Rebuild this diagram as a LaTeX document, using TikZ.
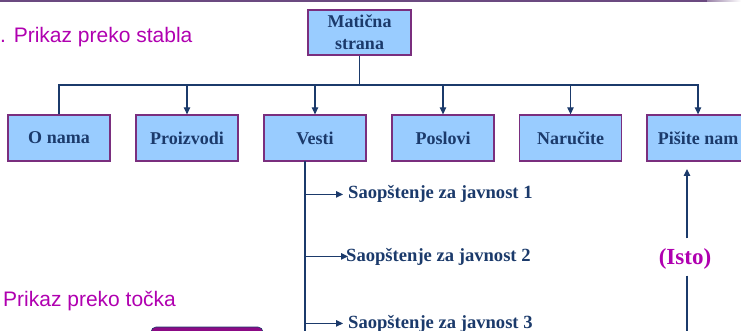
\documentclass[tikz,border=0pt]{standalone}
\usepackage{fontspec}
\setmainfont{Liberation Serif}
\newfontfamily\titlefont{Liberation Sans}
\usetikzlibrary{arrows.meta}
\definecolor{boxfill}{HTML}{99CCFF}
\definecolor{boxedge}{HTML}{7A2E7E}
\definecolor{navy}{HTML}{1B3A6B}
\definecolor{plum}{HTML}{B000B0}
\definecolor{barpurple}{HTML}{6B4A80}
\definecolor{menufill}{HTML}{8B0A85}
\begin{document}
\begin{tikzpicture}[x=1pt,y=-1pt,
  page/.style={draw=boxedge, line width=1.3pt, fill=boxfill,
    minimum width=102pt, minimum height=46pt, inner sep=0pt,
    font=\fontsize{18}{22}\selectfont\bfseries, text=navy},
  link/.style={draw=navy, line width=1.2pt},
  tip/.style={-{Triangle[length=7pt,width=6.5pt]}},
  item/.style={font=\fontsize{18.6}{20}\selectfont\bfseries, text=navy,
    anchor=base west, inner sep=0pt},
  heading/.style={font=\titlefont\fontsize{21}{24}\selectfont, text=plum,
    anchor=base west, inner sep=0pt}]
\useasboundingbox (0,0) rectangle (741,331);
\clip (0,0) rectangle (741,331);

% slide header bar
\fill[barpurple] (0,0) rectangle (707,2.2);
\shade[left color=barpurple!70, right color=white] (707,0) rectangle (741,1.8);

% section headings
\node[heading] (h1) at (0,43) {. Prikaz preko stabla};
\node[heading] (h2) at (3,306.5) {Prikaz preko točka};

% site tree
\node[page, align=center, minimum width=103pt, minimum height=45pt] (home) at (359.5,32.5) {Matična\\strana};
\node[page] (onama)     at (59,138)    {O nama};
\node[page] (proizvodi) at (187,138)   {Proizvodi};
\node[page] (vesti)     at (315,138)   {Vesti};
\node[page] (poslovi)   at (443,138)   {Poslovi};
\node[page] (narucite)  at (570.5,138) {Naručite};
\node[page] (pisite)    at (698,138)   {Pišite nam};

\coordinate (hub) at (359.5,85);
\draw[link] (home.south) -- (hub);
\draw[link] (onama.north) |- (hub);
\foreach \n in {proizvodi,vesti,poslovi,narucite,pisite}
  \draw[link,tip] (hub) -| (\n.north);

% news items below "Vesti"
\node[item] (s1) at (348,199) {Saopštenje za javnost 1};
\node[item] (s2) at (346,261) {Saopštenje za javnost 2};
\node[item] (s3) at (348,328) {Saopštenje za javnost 3};

\coordinate (trunk) at (305,161);
\draw[link] (trunk) -- (305,340);
\draw[link,tip] (trunk |- s1.west) -- ([xshift=-5pt]s1.west);
\draw[link,tip] (trunk |- s2.west) -- ([xshift=2pt]s2.west);
\draw[link,tip] (trunk |- s3.west) -- ([xshift=-5pt]s3.west);

% "(Isto)" link back up to "Pišite nam"
\node[font=\fontsize{23}{26}\selectfont\bfseries, text=plum, inner sep=0pt] (isto) at (685,259) {(Isto)};
\coordinate (up) at (687,169);
\coordinate (low) at (687,340);
\draw[link,tip] ([yshift=10pt]isto.north -| up) -- (up);
\draw[link] ([yshift=-6pt]isto.south -| up) -- (low);

% top of the dot-menu button
\draw[navy, line width=0.6pt, fill=menufill, rounded corners=5pt] (151,327) rectangle (263,350);
\end{tikzpicture}
\end{document}
